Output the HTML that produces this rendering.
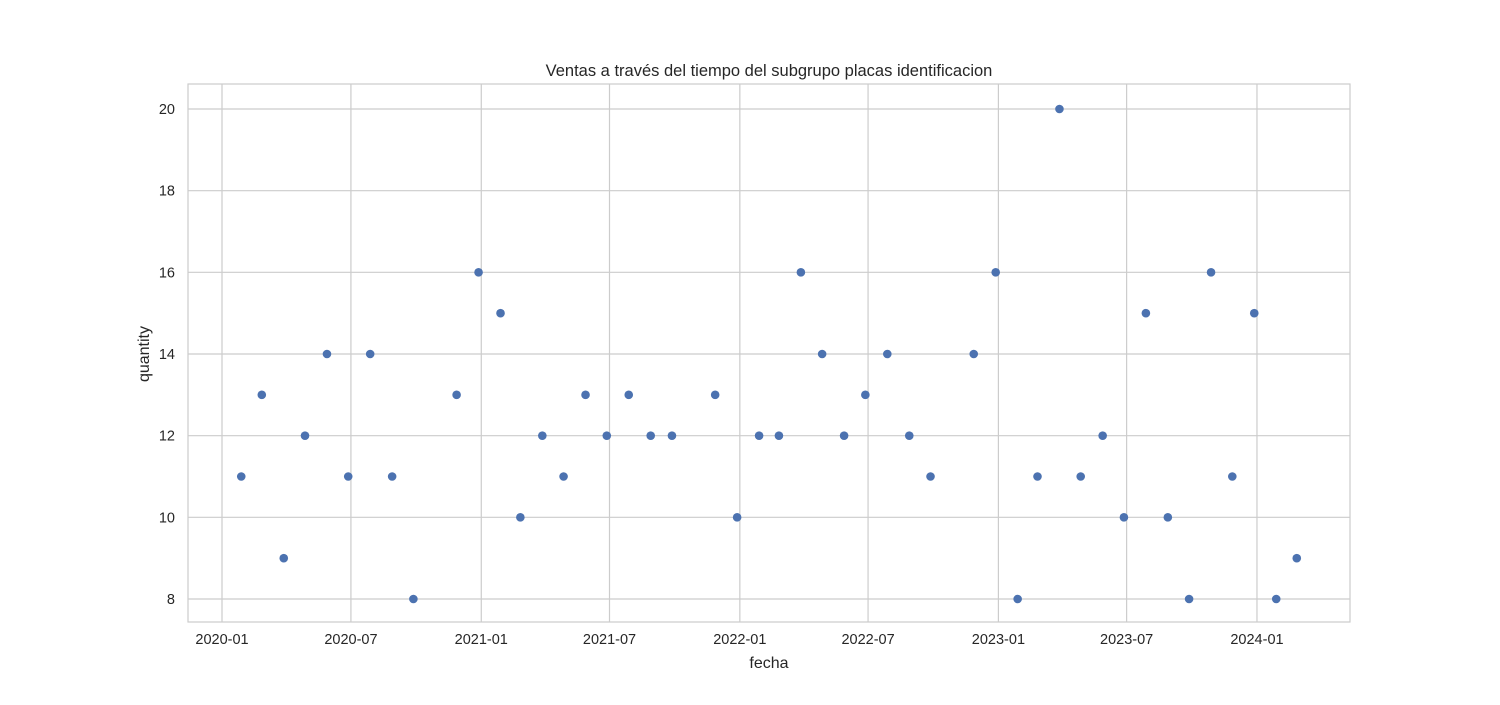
<!DOCTYPE html>
<html><head><meta charset="utf-8"><style>
body{margin:0;background:#fff;}
svg text{font-family:"Liberation Sans",Arial,sans-serif;fill:#262626;}
</style></head><body>
<svg id="chart" width="1500" height="700">
<rect x="0" y="0" width="1500" height="700" fill="#fff"/>
<g id="grid"></g>
<rect x="188" y="84" width="1162" height="538" fill="none" stroke="#cccccc" stroke-width="1.2"/>
<g id="ticks"></g>
<g id="points"></g>
<text x="769" y="76" font-size="16.5" text-anchor="middle">Ventas a través del tiempo del subgrupo placas identificacion</text>
<text x="769" y="668" font-size="16" text-anchor="middle">fecha</text>
<text x="149" y="354" font-size="16" text-anchor="middle" transform="rotate(-90 149 354)">quantity</text>
</svg>
<script>
const months = ["2020-01","2020-02","2020-03","2020-04","2020-05","2020-06","2020-07","2020-08","2020-09","2020-11","2020-12",
"2021-01","2021-02","2021-03","2021-04","2021-05","2021-06","2021-07","2021-08","2021-09","2021-11","2021-12",
"2022-01","2022-02","2022-03","2022-04","2022-05","2022-06","2022-07","2022-08","2022-09","2022-11","2022-12",
"2023-01","2023-02","2023-03","2023-04","2023-05","2023-06","2023-07","2023-08","2023-09","2023-10","2023-11","2023-12",
"2024-01","2024-02"];
const quantities = [11,13,9,12,14,11,14,11,8,13,16,15,10,12,11,13,12,13,12,12,13,10,12,12,16,14,12,13,14,12,11,14,16,8,11,20,11,12,10,15,10,8,16,11,15,8,9];
const xTickLabels = ["2020-01","2020-07","2021-01","2021-07","2022-01","2022-07","2023-01","2023-07","2024-01"];
const yTickLabels = [8,10,12,14,16,18,20];

const NS="http://www.w3.org/2000/svg";
const t0=Date.UTC(2020,0,1), DAY=86400000;
function xScale(ms){return 222+(ms-t0)/DAY*0.7084;}
function yScale(v){return 599-(v-8)*(490/12);}
function parseTick(s){const [y,m]=s.split("-").map(Number);return Date.UTC(y,m-1,1);}
function monthEnd(s){const [y,m]=s.split("-").map(Number);return Date.UTC(y,m,0);}
const grid=document.getElementById("grid"),ticks=document.getElementById("ticks"),pts=document.getElementById("points");
function mk(tag,attrs){const e=document.createElementNS(NS,tag);for(const k in attrs)e.setAttribute(k,attrs[k]);return e;}
xTickLabels.forEach(l=>{
  const x=xScale(parseTick(l));
  const g=mk("line",{x1:x,x2:x,y1:84,y2:622,stroke:"#cccccc","stroke-width":1.2});
  
  
  grid.appendChild(g);
  const t=mk("text",{x:x,y:644,"font-size":14.5,"text-anchor":"middle"});
  t.textContent=l;
  
  
  ticks.appendChild(t);
});
yTickLabels.forEach(v=>{
  const y=yScale(v);
  const g=mk("line",{x1:188,x2:1350,y1:y,y2:y,stroke:"#cccccc","stroke-width":1.2});
  
  
  grid.appendChild(g);
  const t=mk("text",{x:175,y:y+5,"font-size":14.5,"text-anchor":"end"});
  t.textContent=v;
  
  
  ticks.appendChild(t);
});
months.forEach((m,i)=>{
  const c=mk("circle",{cx:xScale(monthEnd(m))-2,cy:yScale(quantities[i]),r:4.3,fill:"#4c72b0"});
  
  
  pts.appendChild(c);
});
</script>
</body></html>
